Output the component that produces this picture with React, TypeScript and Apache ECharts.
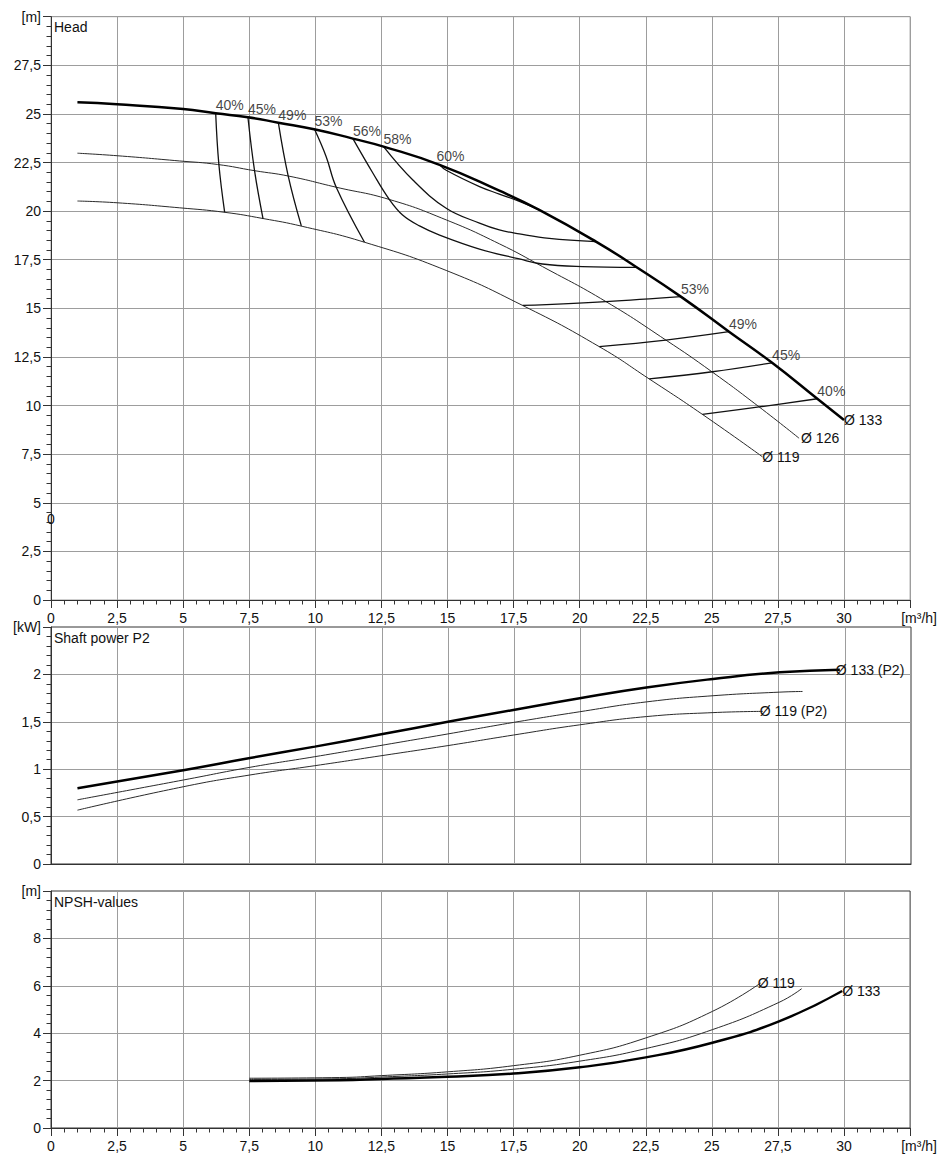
import React, { useEffect, useRef } from "react";
import * as echarts from "echarts";

// ---------- data ----------
const headD133 = [[1, 25.6], [2.5, 25.5], [5, 25.25], [6.23, 25.03], [7.45, 24.83], [8.6, 24.55], [10, 24.2], [11.42, 23.73], [12.58, 23.32], [14.7, 22.38], [16.96, 21.05], [18.47, 20.06], [20.63, 18.42], [22.14, 17.13], [23.84, 15.59], [25.65, 13.8], [27.28, 12.2], [28.99, 10.35], [30.0, 9.26]];
const headD126 = [[1, 22.98], [2.5, 22.85], [4.87, 22.58], [6.3, 22.4], [7.7, 22.08], [9.0, 21.8], [10.79, 21.23], [12.8, 20.6], [14.95, 19.55], [16.96, 18.32], [18.59, 17.15], [20.99, 15.35], [23.26, 13.37], [25.0, 11.74], [26.78, 9.94], [28.3, 8.32]];
const headD119 = [[1, 20.52], [2.5, 20.43], [4.87, 20.17], [6.57, 19.94], [8.02, 19.62], [9.5, 19.22], [11.86, 18.4], [14.95, 16.95], [17.84, 15.15], [20.74, 13.03], [22.63, 11.37], [24.64, 9.55], [26.91, 7.37]];

const eff40L = [[6.23, 25.03], [6.35, 22.41], [6.57, 19.94]];
const eff45L = [[7.45, 24.83], [7.7, 22.08], [8.02, 19.62]];
const eff49L = [[8.6, 24.55], [8.97, 21.83], [9.47, 19.24]];
const eff53L = [[9.97, 24.21], [10.41, 22.8], [10.79, 21.23], [11.86, 18.4]];
const eff56 = [[11.42, 23.73], [12.18, 21.95], [12.81, 20.58], [13.3, 19.8], [13.94, 19.24], [14.7, 18.77], [16.21, 18.05], [17.72, 17.54], [18.59, 17.28], [20.1, 17.15], [22.13, 17.11]];
const eff58 = [[12.58, 23.32], [13.69, 21.6], [14.95, 20.15], [16.21, 19.38], [16.96, 19.03], [17.72, 18.83], [18.85, 18.6], [20.62, 18.43]];
const eff60 = [[14.7, 22.38], [14.95, 22.1], [16.21, 21.26], [16.96, 20.88], [17.72, 20.5], [18.47, 20.06]];
const eff53R = [[17.84, 15.15], [20.99, 15.35], [23.83, 15.6]];
const eff49R = [[20.74, 13.03], [23.26, 13.37], [25.65, 13.8]];
const eff45R = [[22.63, 11.37], [25.02, 11.74], [27.28, 12.2]];
const eff40R = [[24.64, 9.55], [26.79, 9.93], [28.99, 10.35]];

const effLabelNames = ["40%", "45%", "49%", "53%", "56%", "58%", "60%", "53%", "49%", "45%", "40%"];
const effLabelQ = [6.23, 7.45, 8.6, 9.97, 11.42, 12.58, 14.58, 23.83, 25.65, 27.28, 28.99];
const effLabelH = [25.03, 24.83, 24.55, 24.21, 23.73, 23.32, 22.44, 15.6, 13.8, 12.2, 10.35];

const powD133 = [[1, 0.8], [5, 0.99], [7.52, 1.118], [9.97, 1.238], [12.43, 1.365], [15, 1.5], [17.47, 1.625], [19.98, 1.749], [22.5, 1.862], [25.02, 1.952], [27.54, 2.022], [29.81, 2.05]];
const powD126 = [[1, 0.677], [5, 0.886], [7.52, 1.02], [9.97, 1.132], [12.43, 1.249], [15, 1.372], [17.47, 1.493], [19.98, 1.606], [22.5, 1.71], [25.02, 1.775], [27.54, 1.813], [28.4, 1.82]];
const powD119 = [[1, 0.568], [5, 0.815], [7.52, 0.939], [9.97, 1.037], [12.43, 1.14], [15, 1.249], [17.47, 1.36], [19.98, 1.468], [22.5, 1.555], [25.02, 1.597], [26.9, 1.61]];

const npshD133 = [[7.5, 1.98], [10.92, 2.02], [12.5, 2.07], [15, 2.16], [17.5, 2.3], [20, 2.56], [22.5, 2.98], [25.02, 3.6], [27.54, 4.5], [29.93, 5.78]];
const npshD126 = [[7.5, 2.05], [10.92, 2.08], [12.5, 2.15], [15, 2.28], [17.5, 2.48], [20, 2.82], [22.5, 3.35], [25.02, 4.15], [27.54, 5.3], [28.4, 5.88]];
const npshD119 = [[7.5, 2.1], [10.92, 2.13], [12.5, 2.21], [15, 2.37], [17.5, 2.63], [20, 3.07], [22.5, 3.8], [25.02, 4.92], [26.85, 6.12]];

const xUnit = "[m³/h]";
const yUnits = ["[m]", "[kW]", "[m]"];
const yMax = [30, 2.5, 10];
const yStep = [2.5, 0.5, 2];
const xMax = 32.5;
const xStep = 2.5;
const panelTitles = ["Head", "Shaft power P2", "NPSH-values"];

// ---------- styling ----------
const FONT = '"Liberation Sans", Arial, Helvetica, sans-serif';
const TXT = "#111";
const GRIDC = "#9d9d9d";
const AXC = "#333";

const fmt = (v: number) => String(Math.round(v * 1000) / 1000).replace(".", ",");

function thin(data: number[][], idx: number, label?: string, dist = 0) {
  return {
    type: "line",
    xAxisIndex: idx,
    yAxisIndex: idx,
    data,
    symbol: "none",
    showSymbol: false,
    smooth: 0.5,
    silent: true,
    lineStyle: { color: "#2a2a2a", width: 1 },
    z: 3,
    endLabel: label
      ? { show: true, formatter: label, distance: dist, color: TXT, fontSize: 14, fontFamily: FONT }
      : { show: false },
  };
}
function thick(data: number[][], idx: number, label?: string, dist = 0) {
  const s: any = thin(data, idx, label, dist);
  s.lineStyle = { color: "#000", width: 2.5 };
  s.z = 5;
  return s;
}
function eff(data: number[][]) {
  return {
    type: "line",
    xAxisIndex: 0,
    yAxisIndex: 0,
    data,
    symbol: "none",
    showSymbol: false,
    smooth: 0.4,
    silent: true,
    lineStyle: { color: "#111", width: 1.3 },
    z: 4,
  };
}

export default function App() {
  const ref = useRef<HTMLDivElement>(null);
  useEffect(() => {
    if (!ref.current) return;
    const chart = echarts.init(ref.current, null, { renderer: "svg" });
    const grids = [
      { left: 51, top: 16.7, width: 860, height: 583.3, show: true, borderColor: GRIDC, borderWidth: 1, backgroundColor: "transparent" },
      { left: 51, top: 627, width: 860, height: 237, show: true, borderColor: AXC, borderWidth: 1, backgroundColor: "transparent" },
      { left: 51, top: 891, width: 860, height: 237, show: true, borderColor: AXC, borderWidth: 1, backgroundColor: "transparent" },
    ];
    const xAxes = [0, 1, 2].map((i) => ({
      type: "value",
      gridIndex: i,
      min: 0,
      max: xMax,
      interval: xStep,
      axisLine: { show: true, onZero: false, lineStyle: { color: AXC, width: 1 } },
      axisTick: { show: i !== 1, inside: false, length: 8, lineStyle: { color: AXC } },
      minorTick: { show: i !== 1, splitNumber: 5, length: 4.5, lineStyle: { color: AXC } },
      splitLine: { show: true, showMaxLine: i === 0, lineStyle: { color: GRIDC, width: 1 } },
      axisLabel: {
        show: i !== 1,
        margin: 11,
        color: TXT,
        fontSize: 14,
        fontFamily: FONT,
        formatter: (v: number) => (Math.abs(v - xMax) < 1e-6 ? "{u|" + xUnit + "}" : fmt(v)),
        rich: { u: { fontSize: 14, fontFamily: FONT, color: TXT, padding: [0, 0, 0, 18] } },
      },
    }));
    const yAxes = [0, 1, 2].map((i) => ({
      type: "value",
      gridIndex: i,
      min: 0,
      max: yMax[i],
      interval: yStep[i],
      axisLine: { show: true, onZero: false, lineStyle: { color: AXC, width: 1 } },
      axisTick: { show: true, inside: false, length: 8, lineStyle: { color: AXC } },
      minorTick: { show: true, splitNumber: 5, length: 4.5, lineStyle: { color: AXC } },
      splitLine: { show: true, showMaxLine: i === 0, lineStyle: { color: GRIDC, width: 1 } },
      axisLabel: {
        margin: 10,
        color: TXT,
        fontSize: 14,
        fontFamily: FONT,
        formatter: (v: number) => (Math.abs(v - yMax[i]) < 1e-6 ? yUnits[i] : fmt(v)),
      },
    }));

    const effLabelData = effLabelNames.map((n, k) => ({ name: n, value: [effLabelQ[k], effLabelH[k]] }));

    const series: any[] = [
      thin(headD119, 0, "Ø 119", 0),
      thin(headD126, 0, "Ø 126", 2),
      thick(headD133, 0, "Ø 133", 0),
      eff(eff40L), eff(eff45L), eff(eff49L), eff(eff53L), eff(eff56), eff(eff58), eff(eff60),
      eff(eff53R), eff(eff49R), eff(eff45R), eff(eff40R),
      {
        type: "scatter",
        xAxisIndex: 0,
        yAxisIndex: 0,
        data: effLabelData,
        symbolSize: 0.1,
        silent: true,
        itemStyle: { color: "rgba(0,0,0,0)" },
        z: 6,
        label: {
          show: true,
          position: "top",
          align: "left",
          distance: 1,
          formatter: "{b}",
          color: TXT,
          fontSize: 14,
          fontFamily: FONT,
        },
      },
      thin(powD119, 1, "Ø 119 (P2)", -3),
      thin(powD126, 1),
      thick(powD133, 1, "Ø 133 (P2)", -4),
      thin(npshD119, 2, "Ø 119", -3),
      thin(npshD126, 2),
      thick(npshD133, 2, "Ø 133", 0),
    ];

    const titles = panelTitles.map((t, i) => ({
      type: "text",
      x: 54,
      y: [27, 638, 901.5][i],
      silent: true,
      style: { text: t, fill: TXT, font: "14px " + FONT, textAlign: "left", textVerticalAlign: "middle" },
      z: 10,
    }));

    chart.setOption({
      animation: false,
      backgroundColor: "#fff",
      grid: grids,
      xAxis: xAxes,
      yAxis: yAxes,
      series,
      graphic: [
        ...titles,
        {
          type: "text",
          x: 51,
          y: 519,
          silent: true,
          style: { text: "0", fill: TXT, font: "14px " + FONT, textAlign: "center", textVerticalAlign: "middle" },
          z: 10,
        },
      ],
    });
    return () => chart.dispose();
  }, []);
  return (
    <div
      ref={ref}
      style={{ position: "absolute", left: 0, top: 0, width: 940, height: 1166 }}
    />
  );
}
